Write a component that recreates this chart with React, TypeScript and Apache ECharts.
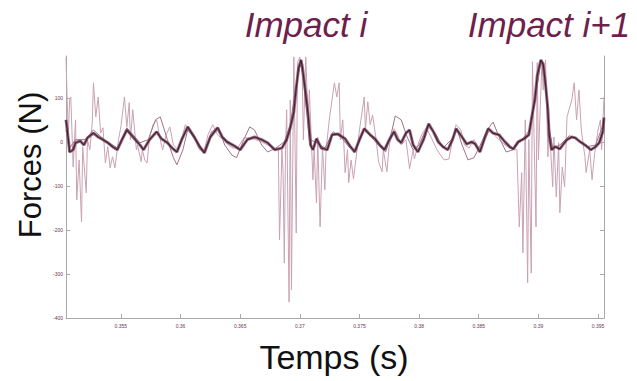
import React, { useEffect, useRef } from "react";
import * as echarts from "echarts";

// Temps (s) / Forces (N)
const meanT = [0.3504,0.3506,0.3507,0.3510,0.3512,0.3516,0.3519,0.3522,0.3527,0.3531,0.3535,0.3539,0.3543,0.3547,0.3551,0.3555,0.3558,0.3563,0.3566,0.3569,0.3574,0.3580,0.3584,0.3589,0.3593,0.3597,0.3601,0.3606,0.3612,0.3616,0.3620,0.3625,0.3631,0.3635,0.3639,0.3645,0.3650,0.3656,0.3662,0.3668,0.3673,0.3679,0.3685,0.3689,0.3692,0.3695,0.3697,0.3699,0.3701,0.3702,0.3704,0.3707,0.3709,0.3711,0.3714,0.3718,0.3723,0.3727,0.3732,0.3738,0.3742,0.3746,0.3750,0.3754,0.3759,0.3763,0.3767,0.3771,0.3775,0.3779,0.3782,0.3785,0.3789,0.3792,0.3795,0.3799,0.3804,0.3808,0.3812,0.3816,0.3820,0.3824,0.3828,0.3831,0.3836,0.3840,0.3844,0.3847,0.3851,0.3855,0.3858,0.3862,0.3867,0.3872,0.3876,0.3879,0.3883,0.3888,0.3892,0.3894,0.3897,0.3899,0.3902,0.3904,0.3906,0.3908,0.3909,0.3911,0.3914,0.3918,0.3921,0.3924,0.3928,0.3931,0.3935,0.3940,0.3944,0.3948,0.3951,0.3954,0.3955];
const meanF = [50,5,-23,-18,-2,2,-7,9,20,11,5,-2,-11,-18,5,27,18,2,-7,-18,5,23,7,-2,-14,-23,5,34,9,-11,-25,11,32,11,0,-9,-18,5,11,5,-2,-18,-14,5,32,68,123,168,186,173,130,61,-7,-18,7,-14,-18,16,18,7,-9,-23,5,30,16,7,-7,-18,5,23,5,-2,20,27,-7,-23,7,41,23,0,-11,-18,5,30,11,-5,0,-5,-23,9,30,20,16,0,-11,-16,0,7,16,50,95,150,186,177,130,73,16,-18,-11,-16,-5,5,11,9,0,-9,-18,-11,-2,23,55];

const lightT = [0.3504,0.3505,0.3506,0.3507,0.3508,0.3510,0.3512,0.3513,0.3515,0.3517,0.3518,0.3521,0.3522,0.3524,0.3526,0.3527,0.3529,0.3531,0.3533,0.3535,0.3537,0.3539,0.3541,0.3543,0.3545,0.3548,0.3550,0.3553,0.3555,0.3557,0.3558,0.3560,0.3563,0.3564,0.3567,0.3568,0.3570,0.3572,0.3574,0.3577,0.3580,0.3583,0.3585,0.3588,0.3591,0.3594,0.3598,0.3601,0.3604,0.3608,0.3612,0.3616,0.3620,0.3623,0.3627,0.3631,0.3636,0.3640,0.3644,0.3648,0.3653,0.3658,0.3663,0.3668,0.3673,0.3678,0.3682,0.3683,0.3685,0.3686,0.3687,0.3688,0.3689,0.3691,0.3692,0.3693,0.3695,0.3697,0.3698,0.3700,0.3702,0.3703,0.3705,0.3707,0.3708,0.3711,0.3712,0.3714,0.3715,0.3717,0.3719,0.3721,0.3722,0.3725,0.3727,0.3729,0.3731,0.3733,0.3734,0.3736,0.3738,0.3740,0.3741,0.3743,0.3745,0.3748,0.3750,0.3754,0.3755,0.3757,0.3759,0.3761,0.3764,0.3766,0.3769,0.3770,0.3773,0.3775,0.3779,0.3782,0.3785,0.3789,0.3792,0.3795,0.3796,0.3799,0.3802,0.3806,0.3810,0.3815,0.3818,0.3821,0.3825,0.3828,0.3831,0.3835,0.3838,0.3842,0.3846,0.3851,0.3855,0.3859,0.3863,0.3867,0.3872,0.3876,0.3880,0.3882,0.3884,0.3886,0.3887,0.3889,0.3891,0.3892,0.3894,0.3895,0.3898,0.3899,0.3900,0.3903,0.3904,0.3906,0.3908,0.3909,0.3912,0.3913,0.3915,0.3917,0.3918,0.3920,0.3922,0.3924,0.3928,0.3930,0.3932,0.3934,0.3936,0.3939,0.3940,0.3943,0.3945,0.3947,0.3950,0.3952,0.3953,0.3955];
const lightF = [191,95,16,95,102,-57,50,-132,-41,-182,-11,-116,5,-18,43,134,57,102,20,32,-48,-11,-59,-34,-59,5,34,102,34,89,5,73,-18,-7,-45,-18,-41,-48,11,39,50,5,-18,16,34,-7,-18,5,39,27,5,-18,-18,16,39,16,5,-7,-14,-14,9,9,5,0,-7,-14,-18,-223,-18,-70,-275,-18,73,-364,95,-336,193,-207,180,193,157,5,193,43,118,-86,-18,-139,11,-193,-11,-109,-18,57,95,134,102,134,5,50,-70,-18,-93,-41,-84,-18,27,102,27,91,39,61,5,-45,-68,-18,-68,-7,30,16,-7,5,-61,-18,-39,-7,16,32,11,-18,-30,-41,-39,5,39,27,-7,-14,5,-18,5,27,16,5,-7,-14,-18,-18,-193,-70,-252,50,-320,5,-298,182,-193,180,-41,186,118,186,-34,43,-102,11,-125,-2,-161,-57,-102,57,95,134,50,118,27,-34,-70,-18,-86,-30,27,50,-18,102];

const traceT = [0.3504,0.3507,0.3512,0.3520,0.3527,0.3536,0.3547,0.3555,0.3566,0.3573,0.3579,0.3583,0.3589,0.3594,0.3597,0.3602,0.3606,0.3613,0.3620,0.3626,0.3632,0.3637,0.3643,0.3647,0.3653,0.3658,0.3662,0.3668,0.3673,0.3680,0.3687,0.3692,0.3697,0.3701,0.3704,0.3708,0.3713,0.3721,0.3728,0.3735,0.3742,0.3747,0.3754,0.3760,0.3767,0.3772,0.3777,0.3780,0.3785,0.3790,0.3795,0.3800,0.3807,0.3814,0.3820,0.3827,0.3832,0.3836,0.3841,0.3846,0.3851,0.3857,0.3862,0.3868,0.3873,0.3879,0.3886,0.3893,0.3898,0.3902,0.3905,0.3908,0.3912,0.3918,0.3926,0.3933,0.3941,0.3948,0.3955];
const traceF = [27,-14,5,5,27,5,-14,32,-2,5,50,57,5,-36,-52,-18,27,5,-23,23,32,-7,-30,-36,5,34,27,-7,-23,-14,0,39,130,182,118,5,0,-14,23,9,-14,-18,27,11,-11,-23,23,59,50,11,-18,-7,36,18,-14,5,27,-7,-41,-36,-9,27,45,5,-23,-18,5,27,107,182,164,50,-14,-7,14,5,-11,-7,45];

const xTicks = [0.355, 0.36, 0.365, 0.37, 0.375, 0.38, 0.385, 0.39, 0.395];
const yTicks = [-400, -300, -200, -100, 0, 100];

const zip = (t: number[], f: number[]) => t.map((v, i) => [v, f[i]]);

export default function App() {
  const ref = useRef<HTMLDivElement>(null);
  useEffect(() => {
    document.body.style.margin = "0";
    const chart = echarts.init(ref.current!, null, { renderer: "svg" });
    const axisCol = "#a8a8a8";
    const labelStyle = { fontSize: 5, color: "#6d3554", fontFamily: "Liberation Sans" };
    chart.setOption({
      animation: false,
      backgroundColor: "#ffffff",
      grid: { left: 66, right: 33, top: 56, bottom: 63, containLabel: false },
      xAxis: {
        type: "value",
        min: 0.3504,
        max: 0.3955,
        axisLine: { show: true, onZero: false, lineStyle: { color: axisCol, width: 1 } },
        axisTick: { show: true, inside: true, length: 4, customValues: xTicks, lineStyle: { color: axisCol } },
        axisLabel: { ...labelStyle, margin: 5, customValues: xTicks, formatter: (v: number) => String(+v.toFixed(3)) },
        splitLine: { show: false },
      },
      yAxis: [
        {
          type: "value",
          min: -400,
          max: 195,
          axisLine: { show: true, onZero: false, lineStyle: { color: axisCol, width: 1 } },
          axisTick: { show: true, inside: true, length: 4, customValues: yTicks, lineStyle: { color: axisCol } },
          axisLabel: { ...labelStyle, margin: 3, customValues: yTicks },
          splitLine: { show: false },
        },
        {
          type: "value",
          position: "right",
          min: -400,
          max: 195,
          axisLine: { show: true, onZero: false, lineStyle: { color: axisCol, width: 1 } },
          axisTick: { show: true, inside: true, length: 4, customValues: yTicks, lineStyle: { color: axisCol } },
          axisLabel: { show: false },
          splitLine: { show: false },
        },
      ],
      series: [
        {
          type: "line",
          data: zip(lightT, lightF),
          showSymbol: false,
          lineStyle: { color: "#c9a2b3", width: 1 },
          z: 1,
        },
        {
          type: "line",
          data: zip(traceT, traceF),
          showSymbol: false,
          lineStyle: { color: "#a07488", width: 1 },
          z: 2,
        },
        {
          type: "line",
          data: zip(meanT, meanF),
          showSymbol: false,
          lineStyle: { color: "#7b4d63", width: 3, opacity: 0.8 },
          z: 3,
        },
        {
          type: "line",
          data: zip(meanT, meanF),
          showSymbol: false,
          lineStyle: { color: "#4a1f36", width: 1.2 },
          z: 4,
        },
      ],
      graphic: [
        {
          type: "text",
          x: 306,
          y: 24,
          style: {
            text: "Impact i",
            fontSize: 35,
            fontStyle: "italic",
            fontFamily: "Liberation Sans",
            fill: "#6e1f4d",
            textAlign: "center",
            textVerticalAlign: "middle",
          },
        },
        {
          type: "text",
          x: 549,
          y: 24,
          style: {
            text: "Impact i+1",
            fontSize: 35,
            fontStyle: "italic",
            fontFamily: "Liberation Sans",
            fill: "#6e1f4d",
            textAlign: "center",
            textVerticalAlign: "middle",
          },
        },
        {
          type: "text",
          x: 334,
          y: 357,
          style: {
            text: "Temps (s)",
            fontSize: 34,
            fontFamily: "Liberation Sans",
            fill: "#111111",
            textAlign: "center",
            textVerticalAlign: "middle",
          },
        },
        {
          type: "text",
          x: 30,
          y: 165,
          rotation: Math.PI / 2,
          style: {
            text: "Forces (N)",
            fontSize: 31,
            fontFamily: "Liberation Sans",
            fill: "#111111",
            textAlign: "center",
            textVerticalAlign: "middle",
          },
        },
      ],
    });
    return () => chart.dispose();
  }, []);
  return <div ref={ref} style={{ width: 637, height: 381 }} />;
}
